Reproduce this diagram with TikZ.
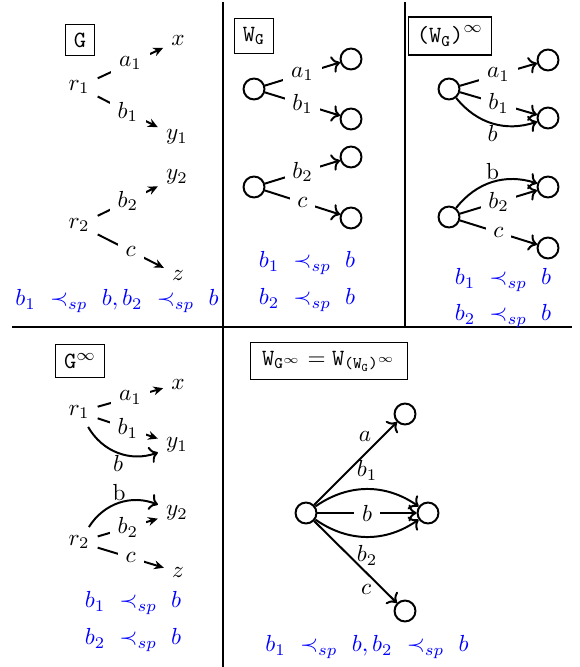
\documentclass[tikz,border=0pt]{standalone}
\usepackage{amsmath}
\usetikzlibrary{arrows.meta}
\begin{document}
\begin{tikzpicture}[x=0.43pt,y=-0.43pt,
  tbox/.style={draw, line width=0.55pt, inner sep=3.6pt},
  st/.style={circle, draw, line width=0.85pt, minimum size=9pt, inner sep=0pt},
  lab/.style={fill=white},
  ln/.style={line width=0.85pt},
  sarr/.style={ln, -{Stealth[length=4.2pt,width=3.8pt]}},
  oarr/.style={ln, ->},
  rel/.style={text=blue},
  clab/.style={inner sep=0.5pt},
]
\useasboundingbox (0,0) rectangle (580,667);
% dividers
\coordinate (h1) at (12,327);
\coordinate (h2) at (572,327);
\coordinate (v1t) at (223,2);
\coordinate (v1b) at (223,667);
\coordinate (v2t) at (405,2);
\coordinate (v2b) at (405,327);
\draw[ln] (h1) -- (h2);
\draw[ln] (v1t) -- (v1b);
\draw[ln] (v2t) -- (v2b);

% ---- top left: G
\node[tbox] (G) at (80,40) {\texttt{G}};
\node (r1) at (79,87) {$r_1$};
\node (x) at (178,41) {$x$};
\node (y1) at (177,137) {$y_1$};
\draw[sarr] (r1) -- node[lab]{$a_1$} (x);
\draw[sarr] (r1) -- node[lab]{$b_1$} (y1);
\node (r2) at (79,225) {$r_2$};
\node (y2) at (177,177) {$y_2$};
\node (z) at (178,275) {$z$};
\draw[sarr] (r2) -- node[lab]{$b_2$} (y2);
\draw[sarr] (r2) -- node[lab]{$c$} (z);
\node[rel] (o1) at (117,301) {$b_1\ \prec_{sp}\ b, b_2\ \prec_{sp}\ b$};

% ---- top middle: W_G
\node[tbox] (WG) at (254,36) {$\mathtt{W}_{\mathtt{G}}$};
\node[st] (p1) at (254,89) {};
\node[st] (q1) at (351,59) {};
\node[st] (q2) at (351,119) {};
\node[st] (p2) at (254,187) {};
\node[st] (q3) at (351,157) {};
\node[st] (q4) at (351,218) {};
\draw[oarr] (p1) -- node[lab]{$a_1$} (q1);
\draw[oarr] (p1) -- node[lab]{$b_1$} (q2);
\draw[oarr] (p2) -- node[lab]{$b_2$} (q3);
\draw[oarr] (p2) -- node[lab]{$c$} (q4);
\node[rel] (o2) at (307,263) {$b_1\ \prec_{sp}\ b$};
\node[rel] (o3) at (307,300) {$b_2\ \prec_{sp}\ b$};

% ---- top right: (W_G)^inf
\node[tbox] (WGi) at (450,36) {$\texttt{(W}_{\texttt{G}}\texttt{)}^{\infty}$};
\node[st] (s1) at (449,89) {};
\node[st] (t1) at (548,60) {};
\node[st] (t2) at (548,118) {};
\node[st] (s2) at (449,217) {};
\node[st] (t3) at (548,187) {};
\node[st] (t4) at (548,248) {};
\draw[oarr] (s1) -- node[lab]{$a_1$} (t1);
\draw[oarr] (s1) -- node[lab]{$b_1$} (t2);
\draw[oarr] (s2) -- node[lab]{$b_2$} (t3);
\draw[oarr] (s2) -- node[lab]{$c$} (t4);
\draw[oarr] (s1) to[bend right=35] node[below, clab]{$b$} (t2);
\draw[oarr] (s2) to[bend left=35] node[above, clab]{b} (t3);
\node[rel] (o4) at (503,280) {$b_1\ \prec_{sp}\ b$};
\node[rel] (o5) at (503,316) {$b_2\ \prec_{sp}\ b$};

% ---- bottom left: G^inf
\node[tbox] (Gi) at (80,361) {$\texttt{G}^{\infty}$};
\node (r1i) at (79,412) {$r_1$};
\node (xi) at (178,384) {$x$};
\node (y1i) at (177,445) {$y_1$};
\draw[sarr] (r1i) -- node[lab]{$a_1$} (xi);
\draw[sarr] (r1i) -- node[lab]{$b_1$} (y1i);
\draw[oarr] (r1i) to[bend right=40] node[below, clab]{$b$} (y1i);
\node (r2i) at (79,542) {$r_2$};
\node (y2i) at (177,513) {$y_2$};
\node (zi) at (178,572) {$z$};
\draw[sarr] (r2i) -- node[lab]{$b_2$} (y2i);
\draw[sarr] (r2i) -- node[lab]{$c$} (zi);
\draw[oarr] (r2i) to[bend left=40] node[above, clab]{b} (y2i);
\node[rel] (o6) at (133,603) {$b_1\ \prec_{sp}\ b$};
\node[rel] (o7) at (133,640) {$b_2\ \prec_{sp}\ b$};

% ---- bottom right
\node[tbox, inner xsep=5pt] (WGinf) at (329,361) {$\mathtt{W}_{\mathtt{G}^{\infty}} = \mathtt{W}_{\texttt{(W}_{\texttt{G}}\texttt{)}^{\infty}}$};
\node[st] (L) at (306,513) {};
\node[st] (T) at (405,414) {};
\node[st] (M) at (428,513) {};
\node[st] (B) at (405,611) {};
\draw[oarr] (L) -- node[pos=.73, above left, inner sep=1pt]{$a$} (T);
\draw[oarr] (L) -- node[lab]{$b$} (M);
\draw[oarr] (L) to[bend left=35] node[above]{$b_1$} (M);
\draw[oarr] (L) to[bend right=35] node[below]{$b_2$} (M);
\draw[oarr] (L) -- node[pos=.73, below left, inner sep=1pt]{$c$} (B);
\node[rel] (o8) at (367,647) {$b_1\ \prec_{sp}\ b, b_2\ \prec_{sp}\ b$};
\end{tikzpicture}
\end{document}
